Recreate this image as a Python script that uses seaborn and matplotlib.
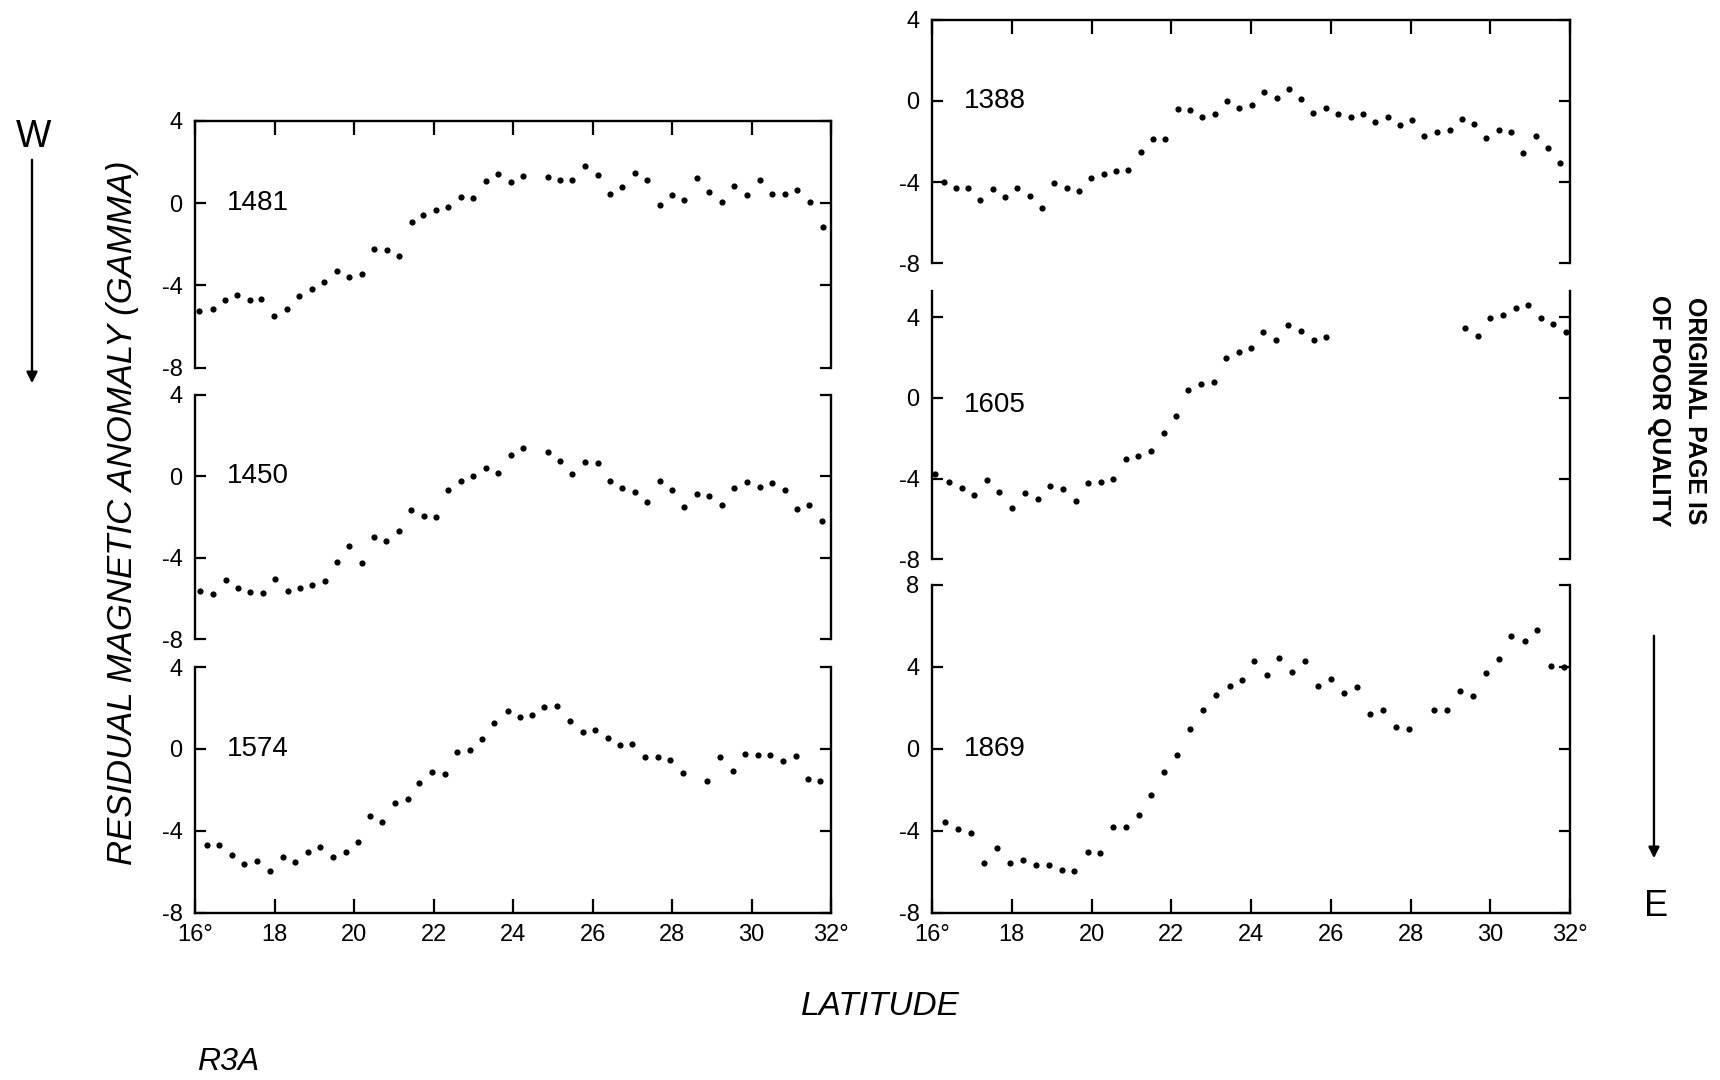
import numpy as np
import matplotlib
matplotlib.use("Agg")
import matplotlib.pyplot as plt
import seaborn as sns

lat_1481 = [16.11, 16.44, 16.75, 17.06, 17.37, 17.67, 17.99, 18.31, 18.62, 18.94,
            19.25, 19.57, 19.88, 20.19, 20.51, 20.83, 21.14, 21.45, 21.74, 22.06,
            22.37, 22.69, 23.00, 23.32, 23.63, 23.94, 24.25, 24.87, 25.18, 25.49,
            25.81, 26.13, 26.45, 26.75, 27.07, 27.38, 27.69, 28.00, 28.31, 28.62,
            28.93, 29.26, 29.56, 29.88, 30.20, 30.52, 30.84, 31.15, 31.46, 31.79]
mag_1481 = [-5.27, -5.14, -4.73, -4.48, -4.70, -4.67, -5.49, -5.14, -4.54, -4.16,
            -3.83, -3.33, -3.62, -3.44, -2.24, -2.30, -2.57, -0.94, -0.60, -0.33,
            -0.17, 0.30, 0.22, 1.06, 1.43, 1.02, 1.33, 1.27, 1.11, 1.11,
            1.81, 1.37, 0.46, 0.79, 1.46, 1.11, -0.08, 0.37, 0.14, 1.22,
            0.52, 0.06, 0.83, 0.37, 1.11, 0.43, 0.43, 0.63, 0.05, -1.17]

lat_1450 = [16.13, 16.45, 16.77, 17.08, 17.39, 17.71, 18.02, 18.33, 18.65, 18.95,
            19.26, 19.57, 19.88, 20.19, 20.50, 20.81, 21.12, 21.44, 21.75, 22.06,
            22.37, 22.68, 23.00, 23.32, 23.63, 23.94, 24.25, 24.87, 25.18, 25.49,
            25.81, 26.13, 26.45, 26.75, 27.07, 27.38, 27.69, 28.00, 28.31, 28.62,
            28.93, 29.25, 29.56, 29.88, 30.20, 30.52, 30.84, 31.14, 31.45, 31.77]
mag_1450 = [-5.62, -5.79, -5.07, -5.47, -5.65, -5.73, -5.01, -5.60, -5.46, -5.34,
            -5.14, -4.21, -3.42, -4.24, -2.99, -3.15, -2.70, -1.65, -1.94, -2.00,
            -0.66, -0.21, 0.03, 0.42, 0.19, 1.07, 1.39, 1.20, 0.74, 0.11,
            0.69, 0.67, -0.22, -0.59, -0.77, -1.26, -0.24, -0.66, -1.50, -0.85,
            -0.94, -1.38, -0.58, -0.27, -0.51, -0.32, -0.69, -1.60, -1.39, -2.21]

lat_1574 = [16.30, 16.60, 16.92, 17.24, 17.55, 17.88, 18.20, 18.51, 18.83, 19.15,
            19.47, 19.79, 20.11, 20.40, 20.71, 21.04, 21.35, 21.64, 21.96, 22.28,
            22.59, 22.91, 23.23, 23.53, 23.86, 24.17, 24.48, 24.79, 25.10, 25.42,
            25.75, 26.06, 26.38, 26.69, 27.00, 27.32, 27.64, 27.95, 28.27, 28.89,
            29.21, 29.53, 29.84, 30.17, 30.47, 30.79, 31.11, 31.43, 31.73]
mag_1574 = [-4.69, -4.68, -5.21, -5.61, -5.50, -5.98, -5.29, -5.53, -5.03, -4.81,
            -5.26, -5.03, -4.53, -3.29, -3.56, -2.63, -2.47, -1.66, -1.13, -1.23,
            -0.16, -0.05, 0.48, 1.26, 1.85, 1.55, 1.66, 2.03, 2.10, 1.35,
            0.81, 0.92, 0.52, 0.19, 0.26, -0.40, -0.42, -0.56, -1.16, -1.55,
            -0.39, -1.10, -0.26, -0.31, -0.32, -0.61, -0.34, -1.45, -1.55]

lat_1388 = [16.29, 16.60, 16.90, 17.21, 17.52, 17.83, 18.14, 18.45, 18.76, 19.07,
            19.38, 19.69, 19.99, 20.30, 20.61, 20.92, 21.23, 21.53, 21.84, 22.16,
            22.47, 22.78, 23.09, 23.40, 23.71, 24.02, 24.33, 24.64, 24.95, 25.25,
            25.56, 25.87, 26.19, 26.50, 26.81, 27.12, 27.43, 27.74, 28.04, 28.35,
            28.67, 28.98, 29.28, 29.60, 29.90, 30.22, 30.52, 30.83, 31.14, 31.44,
            31.76]
mag_1388 = [-4.00, -4.27, -4.29, -4.88, -4.32, -4.74, -4.27, -4.70, -5.30, -4.05,
            -4.29, -4.46, -3.78, -3.58, -3.47, -3.42, -2.54, -1.86, -1.86, -0.42,
            -0.43, -0.80, -0.66, -0.03, -0.35, -0.18, 0.46, 0.14, 0.58, 0.11,
            -0.59, -0.35, -0.64, -0.77, -0.66, -1.02, -0.77, -1.20, -0.93, -1.73,
            -1.55, -1.44, -0.88, -1.12, -1.82, -1.42, -1.52, -2.56, -1.73, -2.30,
            -3.06]

lat_1605 = [16.07, 16.42, 16.74, 17.06, 17.38, 17.69, 18.01, 18.33, 18.65, 18.97,
            19.28, 19.60, 19.92, 20.23, 20.53, 20.86, 21.17, 21.49, 21.81, 22.11,
            22.43, 22.74, 23.07, 23.38, 23.69, 24.00, 24.31, 24.63, 24.93, 25.25,
            25.57, 25.88, 29.37, 29.68, 29.99, 30.32, 30.64, 30.95, 31.26, 31.58,
            31.89]
mag_1605 = [-3.75, -4.19, -4.44, -4.81, -4.05, -4.65, -5.46, -4.70, -5.03, -4.37,
            -4.49, -5.11, -4.21, -4.19, -4.00, -3.03, -2.89, -2.63, -1.75, -0.89,
            0.38, 0.67, 0.79, 1.97, 2.25, 2.49, 3.25, 2.87, 3.59, 3.32,
            2.86, 3.03, 3.48, 3.06, 3.97, 4.10, 4.46, 4.59, 3.95, 3.63,
            3.24]

lat_1869 = [16.33, 16.66, 16.97, 17.30, 17.62, 17.95, 18.28, 18.60, 18.93, 19.25,
            19.57, 19.90, 20.22, 20.54, 20.86, 21.19, 21.50, 21.81, 22.14, 22.46,
            22.79, 23.13, 23.46, 23.77, 24.08, 24.40, 24.71, 25.03, 25.36, 25.69,
            26.00, 26.33, 26.66, 26.98, 27.30, 27.63, 27.95, 28.60, 28.92, 29.25,
            29.57, 29.89, 30.22, 30.53, 30.86, 31.18, 31.53, 31.85]
mag_1869 = [-3.56, -3.92, -4.13, -5.60, -4.87, -5.57, -5.44, -5.66, -5.66, -5.93,
            -5.98, -5.02, -5.11, -3.80, -3.80, -3.24, -2.25, -1.14, -0.32, 0.95,
            1.88, 2.61, 3.04, 3.34, 4.30, 3.59, 4.40, 3.72, 4.26, 3.05,
            3.39, 2.71, 3.01, 1.68, 1.87, 1.08, 0.95, 1.87, 1.90, 2.83,
            2.59, 3.70, 4.38, 5.51, 5.24, 5.78, 4.02, 3.99]

x_ticks = [16, 18, 20, 22, 24, 26, 28, 30, 32]
x_labels = ["16°", "18", "20", "22", "24", "26", "28", "30", "32°"]

sns.set_theme(style="white")
plt.rcParams["font.family"] = ["Liberation Sans", "DejaVu Sans"]
plt.rcParams["text.color"] = "black"
plt.rcParams["xtick.color"] = "black"
plt.rcParams["ytick.color"] = "black"

fig = plt.figure(figsize=(17.2, 10.8), dpi=100)

# panel frames in figure fractions: left, bottom, width, height
left_col = (0.1134, 0.3698)
right_col = (0.5419, 0.3709)
panels = [
    # track, lat, mag, col, bottom, height, ylim, yticks, position, label y
    ("1481", lat_1481, mag_1481, left_col, 0.6597, 0.2285, (-8, 4), [-8, -4, 0, 4], "top", 0.0),
    ("1450", lat_1450, mag_1450, left_col, 0.4079, 0.2265, (-8, 4), [-8, -4, 0, 4], "mid", 0.0),
    ("1574", lat_1574, mag_1574, left_col, 0.1550, 0.2274, (-8, 4), [-8, -4, 0, 4], "bot", 0.0),
    ("1388", lat_1388, mag_1388, right_col, 0.7562, 0.2256, (-8, 4), [-8, -4, 0, 4], "top", 0.0),
    ("1605", lat_1605, mag_1605, right_col, 0.4820, 0.2488, (-8, 5.3), [-8, -4, 0, 4], "mid", -0.35),
    ("1869", lat_1869, mag_1869, right_col, 0.1550, 0.3036, (-8, 8), [-8, -4, 0, 4, 8], "bot", 0.0),
]

for name, lat, mag, col, bottom, height, ylim, yticks, pos, label_y in panels:
    ax = fig.add_axes([col[0], bottom, col[1], height])
    sns.scatterplot(x=lat, y=mag, ax=ax, color="black", s=20, linewidth=0)
    ax.set_xlim(16, 32)
    ax.set_ylim(*ylim)
    ax.set_yticks(yticks)
    ax.set_yticklabels([str(t) for t in yticks])
    ax.set_xlabel("")
    ax.set_ylabel("")
    ax.text(16.8, label_y, name, fontsize=20, ha="left", va="center", color="black")

    for s in ax.spines.values():
        s.set_color("black")
        s.set_linewidth(1.7)
    ax.spines["top"].set_visible(pos == "top")
    ax.spines["bottom"].set_visible(pos == "bot")

    ax.tick_params(axis="y", which="both", direction="in", length=8, width=1.6,
                   left=True, right=True, labelleft=True, labelright=False,
                   labelsize=17, pad=9, colors="black")
    ax.set_xticks(x_ticks)
    if pos == "bot":
        ax.set_xticklabels(x_labels)
        ax.tick_params(axis="x", direction="in", length=10, width=1.6, top=False,
                       bottom=True, labelbottom=True, labelsize=17, pad=8, colors="black")
    elif pos == "top":
        ax.tick_params(axis="x", direction="in", length=10, width=1.6, top=True,
                       bottom=False, labelbottom=False, colors="black")
    else:
        ax.tick_params(axis="x", bottom=False, top=False, labelbottom=False)
    ax.set_facecolor("white")

# shared labels
fig.text(0.0715, 0.525, "RESIDUAL MAGNETIC ANOMALY (GAMMA)", rotation=90,
         style="italic", fontsize=25, ha="center", va="center")
fig.text(0.5116, 0.0676, "LATITUDE", style="italic", fontsize=24, ha="center", va="center")
fig.text(0.1145, 0.0167, "R3A", style="italic", fontsize=23, ha="left", va="center")

# direction markers
fig.text(0.0192, 0.873, "W", fontsize=27, ha="center", va="center")
fig.text(0.9628, 0.161, "E", fontsize=26, ha="center", va="center")
fig.patches.append(matplotlib.patches.FancyArrowPatch(
    (0.0186, 0.8546), (0.0186, 0.6426), transform=fig.transFigure,
    arrowstyle="-|>", mutation_scale=16, lw=1.7, color="black"))
fig.patches.append(matplotlib.patches.FancyArrowPatch(
    (0.9616, 0.4139), (0.9616, 0.2028), transform=fig.transFigure,
    arrowstyle="-|>", mutation_scale=16, lw=1.7, color="black"))

fig.text(0.975, 0.6194, "ORIGINAL PAGE IS\nOF POOR QUALITY", rotation=270,
         fontsize=18, fontweight="bold", ha="center", va="center", linespacing=1.6)

fig.savefig("out.png", dpi=100, facecolor="white")
